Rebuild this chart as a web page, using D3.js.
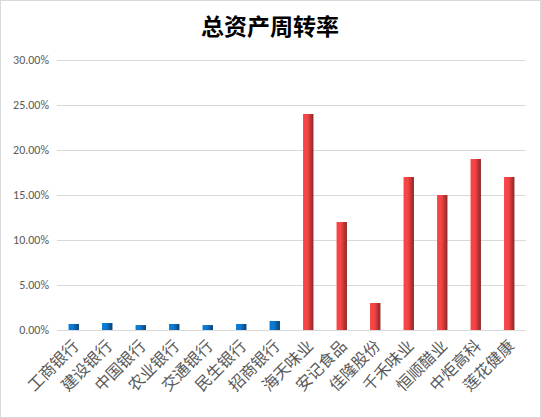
<!DOCTYPE html>
<html>
<head>
<meta charset="utf-8">
<script src="https://cdn.jsdelivr.net/npm/d3@7"></script>
<style>
  body { margin: 0; background: #fff; }
  svg { display: block; font-family: "Microsoft YaHei", "Noto Sans CJK SC", sans-serif; }
</style>
</head>
<body>
<div id="chart"></div>
<script>
// categories and values (percent)
const categories = ["工商银行", "建设银行", "中国银行", "农业银行", "交通银行", "民生银行", "招商银行",
    "海天味业", "安记食品", "佳隆股份", "千禾味业", "恒顺醋业", "中炬高科", "莲花健康"]
const values = [0.67, 0.78, 0.55, 0.67, 0.55, 0.67, 1.0, 24, 12, 3, 17, 15, 19, 17]
const groups = ["bank", "bank", "bank", "bank", "bank", "bank", "bank",
    "food", "food", "food", "food", "food", "food", "food"]
const yTicks = [0, 5, 10, 15, 20, 25, 30]

const width = 541, height = 418
const margin = {top: 60, right: 15, bottom: 88, left: 57}

const svg = d3.select("#chart")
    .append("svg")
    .attr("width", width)
    .attr("height", height)

// gradients for the bars
const defs = svg.append("defs")
const grads = {bank: ["#0a7ad2", "#0b3f73"], food: ["#f84444", "#8a2828"]}
Object.keys(grads).forEach(function(k) {
    let g = defs.append("linearGradient").attr("id", "g-" + k)
        .attr("x1", "0%").attr("x2", "100%").attr("y1", "0%").attr("y2", "0%")
    g.append("stop").attr("offset", "0%").attr("stop-color", grads[k][0])
    g.append("stop").attr("offset", "40%").attr("stop-color", grads[k][0])
    g.append("stop").attr("offset", "100%").attr("stop-color", grads[k][1])
})

// frame
svg.append("rect")
    .attr("x", 0.5).attr("y", 0.5)
    .attr("width", width - 1).attr("height", height - 1)
    .attr("fill", "#fff")
    .attr("stroke", "#d9d9d9")

svg.append("text")
    .attr("x", 270)
    .attr("y", 35)
    .attr("text-anchor", "middle")
    .attr("font-size", 23)
    .attr("font-weight", "bold")
    .attr("fill", "#000")
    .text("总资产周转率")

const x = d3.scaleBand()
    .domain(categories)
    .range([margin.left, width - margin.right])
    .paddingInner(0.69)
    .paddingOuter(0.345)

const y = d3.scaleLinear()
    .domain([0, 30])
    .range([height - margin.bottom, margin.top])

// gridlines + y labels
const yAxis = svg.append("g")
    .attr("transform", `translate(${margin.left},0)`)
    .call(d3.axisLeft(y)
        .tickValues(yTicks)
        .tickSize(-(width - margin.right - margin.left))
        .tickPadding(8)
        .tickFormat(d => d.toFixed(2) + "%"))
yAxis.select(".domain").remove()
yAxis.selectAll(".tick line").attr("stroke", "#d9d9d9").attr("stroke-width", 1)
yAxis.selectAll(".tick text")
    .attr("fill", "#595959")
    .attr("font-size", 12)
    .attr("font-family", "Calibri, Carlito, 'Liberation Sans', sans-serif")

// bars
svg.append("g")
    .selectAll("rect")
    .data(values)
    .enter()
    .append("rect")
    .attr("x", (d, i) => x(categories[i]))
    .attr("y", d => y(d))
    .attr("width", x.bandwidth())
    .attr("height", d => y(0) - y(d))
    .attr("fill", (d, i) => "url(#g-" + groups[i] + ")")

// category labels, rotated
svg.append("g")
    .selectAll("text")
    .data(categories)
    .enter()
    .append("text")
    .attr("transform", d => `translate(${x(d) + x.bandwidth() / 2 + 6},${y(0) + 17}) rotate(-45)`)
    .attr("text-anchor", "end")
    .attr("font-size", 16)
    .attr("fill", "#595959")
    .text(d => d)
</script>
</body>
</html>
